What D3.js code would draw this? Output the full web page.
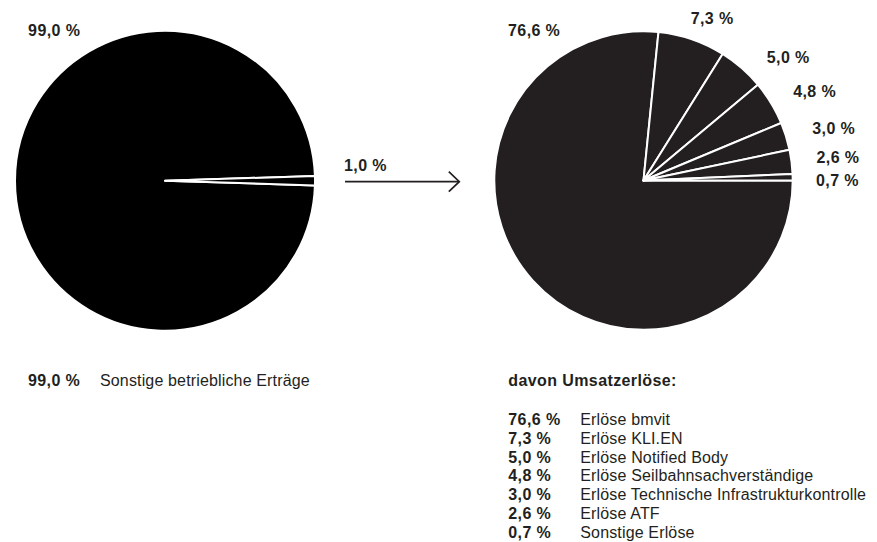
<!DOCTYPE html>
<html>
<head>
<meta charset="utf-8">
<script src="https://cdn.jsdelivr.net/npm/d3@7"></script>
<style>
  body { margin: 0; background: #fff; }
  svg { display: block; }
  text { font-family: "Liberation Sans", Arial, Helvetica, sans-serif; fill: #231f20; }
</style>
</head>
<body>
<svg id="chart" width="877" height="542"></svg>
<script>
// Shares of operating income (left) and the breakdown of sales revenue (right)
const totalCategories = ["Sonstige betriebliche Erträge", "Umsatzerlöse"];
const totalValues = [99.0, 1.0];

const salesHeading = "davon Umsatzerlöse:";
const salesCategories = [
  "Erlöse bmvit",
  "Erlöse KLI.EN",
  "Erlöse Notified Body",
  "Erlöse Seilbahnsachverständige",
  "Erlöse Technische Infrastrukturkontrolle",
  "Erlöse ATF",
  "Sonstige Erlöse"
];
const salesValues = [76.6, 7.3, 5.0, 4.8, 3.0, 2.6, 0.7];

// ---- layout ----
const W = 877, H = 542;
const leftPie  = { cx: 165,   cy: 180.7, r: 150 };
const rightPie = { cx: 643.5, cy: 180.5, r: 149.2 };
const fontSize = 16;
const boldSpacing = "0.4px", regularSpacing = "0.15px";

// label placement around the pies: [angle in degrees clockwise from 12 o'clock, distance from centre]
const leftLabelPolar = [[-36.4, 186.7]];
const rightLabelPolar = [[-36.1, 185.6], [23.0, 175.8], [49.5, 190.3], [62.5, 193.0],
                         [74.6, 197.3], [83.2, 195.9], [90.0, 194.0]];

const fmt = v => d3.format(".1f")(v).replace(".", ",") + " %";

const svg = d3.select("#chart");

function polar(cx, cy, deg, dist) {
  const a = deg * Math.PI / 180;
  return [cx + dist * Math.sin(a), cy - dist * Math.cos(a)];
}

// ---- left pie: the small slice is centred on the 3 o'clock direction ----
const halfSmall = totalValues[1] / d3.sum(totalValues) * Math.PI;
const pieLeft = d3.pie().sort(null).value(d => d)
  .startAngle(Math.PI / 2 + halfSmall)
  .endAngle(Math.PI / 2 + halfSmall + 2 * Math.PI);
const arcLeft = d3.arc().innerRadius(0).outerRadius(leftPie.r);

svg.append("g")
  .attr("transform", `translate(${leftPie.cx},${leftPie.cy})`)
  .selectAll("path")
  .data(pieLeft(totalValues))
  .join("path")
  .attr("d", arcLeft)
  .attr("fill", "#000")
  .attr("stroke", "#fff")
  .attr("stroke-width", 2)
  .attr("stroke-linejoin", "round");

// ---- right pie: slices run clockwise from 3 o'clock, last slice ends back at 3 o'clock ----
const pieRight = d3.pie().sort(null).value(d => d)
  .startAngle(Math.PI / 2)
  .endAngle(Math.PI / 2 + 2 * Math.PI);
const arcRight = d3.arc().innerRadius(0).outerRadius(rightPie.r);

svg.append("g")
  .attr("transform", `translate(${rightPie.cx},${rightPie.cy})`)
  .selectAll("path")
  .data(pieRight(salesValues))
  .join("path")
  .attr("d", arcRight)
  .attr("fill", "#231f20")
  .attr("stroke", "#fff")
  .attr("stroke-width", 2)
  .attr("stroke-linejoin", "round");

// ---- value labels around the pies ----
function boldText(sel) {
  return sel.attr("font-size", fontSize).attr("font-weight", "bold")
    .attr("letter-spacing", boldSpacing);
}

leftLabelPolar.forEach(([deg, dist], i) => {
  const [x, y] = polar(leftPie.cx, leftPie.cy, deg, dist);
  boldText(svg.append("text"))
    .attr("x", x).attr("y", y + fontSize * 0.36)
    .attr("text-anchor", "middle")
    .text(fmt(totalValues[i]));
});

rightLabelPolar.forEach(([deg, dist], i) => {
  const [x, y] = polar(rightPie.cx, rightPie.cy, deg, dist);
  boldText(svg.append("text"))
    .attr("x", x).attr("y", y + fontSize * 0.36)
    .attr("text-anchor", "middle")
    .text(fmt(salesValues[i]));
});

// ---- arrow linking the small slice to the breakdown ----
const arrowY = leftPie.cy + 1;
const ax0 = leftPie.cx + leftPie.r + 30;
const ax1 = rightPie.cx - rightPie.r - 35;
const arrow = svg.append("g")
  .attr("fill", "none")
  .attr("stroke", "#231f20")
  .attr("stroke-width", 1.7);
arrow.append("line").attr("x1", ax0).attr("x2", ax1).attr("y1", arrowY).attr("y2", arrowY);
arrow.append("path")
  .attr("d", `M${ax1 - 10.5},${arrowY - 10} L${ax1},${arrowY} L${ax1 - 10.5},${arrowY + 10}`);

boldText(svg.append("text"))
  .attr("x", ax0 - 1).attr("y", arrowY - 10.5)
  .text(fmt(totalValues[1]));

// ---- legends ----
const legendBase = 386;
const valueCol = 72;      // distance between value column and name column
const rowStart = 425;
const rowStep = 18.75;

// left legend
const leftLegendX = 28;
boldText(svg.append("text"))
  .attr("x", leftLegendX).attr("y", legendBase)
  .text(fmt(totalValues[0]));
svg.append("text")
  .attr("x", leftLegendX + valueCol).attr("y", legendBase)
  .attr("font-size", fontSize).attr("letter-spacing", regularSpacing)
  .text(totalCategories[0]);

// right legend
const rightLegendX = 508.3;
boldText(svg.append("text"))
  .attr("x", rightLegendX).attr("y", legendBase)
  .text(salesHeading);

const rows = svg.append("g").selectAll("g")
  .data(salesValues.map((v, i) => ({ v, name: salesCategories[i], i })))
  .join("g")
  .attr("transform", d => `translate(${rightLegendX},${rowStart + d.i * rowStep})`);

boldText(rows.append("text")).text(d => fmt(d.v));
rows.append("text")
  .attr("x", valueCol)
  .attr("font-size", fontSize).attr("letter-spacing", regularSpacing)
  .text(d => d.name);
</script>
</body>
</html>
